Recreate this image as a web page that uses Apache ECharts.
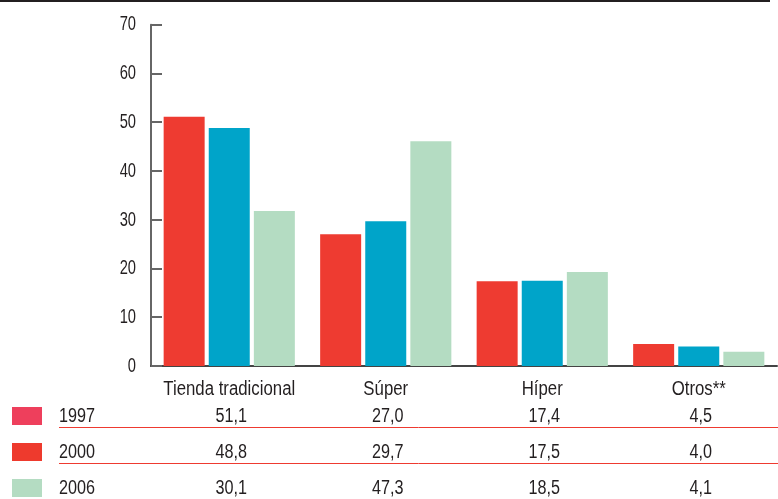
<!DOCTYPE html>
<html><head><meta charset="utf-8">
<script src="https://cdn.jsdelivr.net/npm/echarts@6/dist/echarts.min.js"></script>
<style>html,body{margin:0;padding:0;background:#fff}#c{width:778px;height:499px}</style>
</head><body><div id="c"></div>
<script>
const categories = ['Tienda tradicional', 'Súper', 'Híper', 'Otros**'];
const years = ['1997', '2000', '2006'];
const bars1997 = [51.1, 27.0, 17.4, 4.5];
const bars2000 = [48.8, 29.7, 17.5, 4.0];
const bars2006 = [31.8, 46.1, 19.3, 2.9];
const table1997 = ['51,1', '27,0', '17,4', '4,5'];
const table2000 = ['48,8', '29,7', '17,5', '4,0'];
const table2006 = ['30,1', '47,3', '18,5', '4,1'];
const yTickLabels = ['0', '10', '20', '30', '40', '50', '60', '70'];
const yMin = 0, yMax = 70, yStep = 10;

const FONT = "'Liberation Sans', Arial, sans-serif";
const barColors = ['#ee3b31', '#00a4c9', '#b4dcc2'];
const swatchColors = ['#ee3f5c', '#ee3a2d', '#b4dcc2'];
const textColor = '#231f20';

const chart = echarts.init(document.getElementById('c'), null, {renderer: 'canvas'});
const seriesData = [bars1997, bars2000, bars2006];
const tableRows = [table1997, table2000, table2006];

chart.setOption({
  animation: false,
  grid: {left: 151, right: 1, top: 24.7, bottom: 133, containLabel: false},
  xAxis: {
    type: 'category',
    data: categories,
    axisLine: {show: true, lineStyle: {color: '#444', width: 2}},
    axisTick: {show: false},
    axisLabel: {show: false}
  },
  yAxis: {
    type: 'value', min: yMin, max: yMax, interval: yStep,
    splitLine: {show: false},
    axisLine: {show: true, lineStyle: {color: '#666', width: 2}},
    axisTick: {show: true, inside: true, length: 11, lineStyle: {color: '#666', width: 2}},
    axisLabel: {show: false}
  },
  series: years.map((y, i) => ({
    name: y, type: 'bar', data: seriesData[i],
    barWidth: 41, barGap: '10%',
    itemStyle: {color: barColors[i]}
  }))
});

function txt(x, y, s, align, sx, size) {
  return {type: 'text', x: x, y: y, scaleX: sx, silent: true,
    style: {text: s, fill: textColor, font: (size || 20) + 'px ' + FONT, textAlign: align, textVerticalAlign: 'middle'}};
}

const graphics = [];
graphics.push({type: 'line', shape: {x1: 0, y1: 1, x2: 770, y2: 1}, style: {stroke: '#231f20', lineWidth: 2}});
// y tick labels
yTickLabels.forEach(t => {
  const py = chart.convertToPixel({yAxisIndex: 0}, Number(t));
  graphics.push(txt(136, py, t, 'right', 0.7, 21));
});
// category labels
categories.forEach(c => {
  const px = chart.convertToPixel({xAxisIndex: 0}, c);
  graphics.push(txt(px, 389, c, 'center', 0.84));
});
const rowY = [416, 452, 488];
years.forEach((y, i) => {
  graphics.push({type: 'rect', shape: {x: 12, y: rowY[i] - 9, width: 30, height: 18}, style: {fill: swatchColors[i]}});
  graphics.push(txt(59, rowY[i], y, 'left', 0.81));
  categories.forEach((c, j) => {
    const px = chart.convertToPixel({xAxisIndex: 0}, c);
    graphics.push(txt(px + 2, rowY[i], tableRows[i][j], 'center', 0.81));
  });
});
[427.5, 463.5].forEach(ly => {
  graphics.push({type: 'line', shape: {x1: 59, y1: ly, x2: 778, y2: ly}, style: {stroke: '#ee3a30', lineWidth: 1}});
});
chart.setOption({graphic: graphics});
</script>
</body></html>
